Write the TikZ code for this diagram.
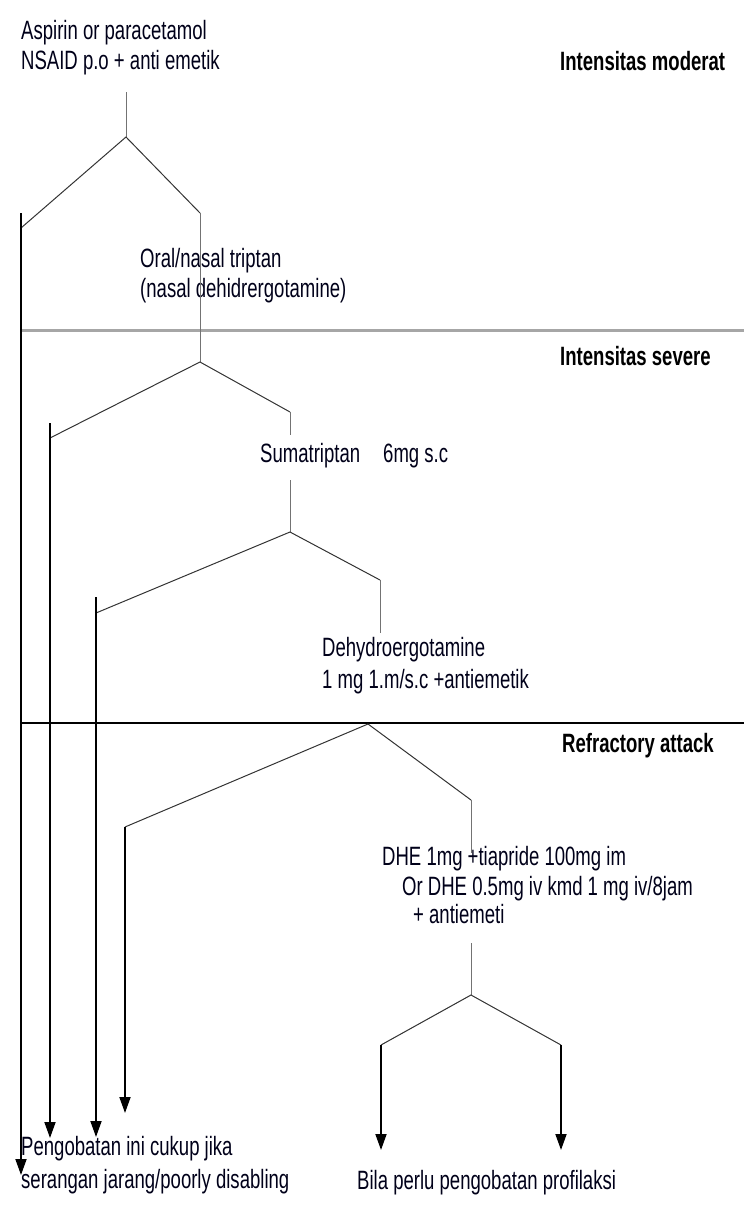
\documentclass[tikz,border=0pt]{standalone}
\usepackage{fontspec}
\setmainfont{Liberation Sans}[FakeStretch=0.7]
\usetikzlibrary{arrows.meta}
\begin{document}
\begin{tikzpicture}[x=1pt,y=-1pt,
  txt/.style={anchor=base west, inner sep=0pt, font=\fontsize{26.5}{30}\selectfont, text=black!90!blue},
  hdr/.style={anchor=base west, inner sep=0pt, font=\fontsize{26.5}{30}\selectfont\bfseries},
  branch/.style={draw=black!80, line width=1pt},
  stem/.style={draw=black!55, line width=1pt},
  mainarrow/.style={draw=black, line width=1.8pt, -{Triangle[length=16pt,width=11pt]}},
  sepgrey/.style={draw=black!35, line width=3pt},
  sepblack/.style={draw=black, line width=1.5pt}]
\useasboundingbox (0,0) rectangle (744,1205);
% texts
\node[txt] (aspirin) at (21,39) {Aspirin or paracetamol};
\node[txt] (nsaid) at (21,69) {NSAID p.o + anti emetik};
\node[hdr] (hmod) at (560,70) {Intensitas moderat};
\node[txt] (oral) at (140,267) {Oral/nasal triptan};
\node[txt] (nasal) at (140,297) {(nasal dehidrergotamine)};
\node[hdr] (hsev) at (560,365) {Intensitas severe};
\node[txt] (suma) at (260,462) {Sumatriptan\hspace{23pt}6mg s.c};
\node[txt] (dhe1) at (322,656) {Dehydroergotamine};
\node[txt] (dhe2) at (322,688) {1 mg 1.m/s.c +antiemetik};
\node[hdr] (href) at (562,752) {Refractory attack};
\node[txt] (tia1) at (382,865) {DHE 1mg +tiapride 100mg im};
\node[txt] (tia2) at (402,895) {Or DHE 0.5mg iv kmd 1 mg iv/8jam};
\node[txt] (tia3) at (413,923) {+ antiemeti};
\node[txt] (cukup1) at (21,1155) {Pengobatan ini cukup jika};
\node[txt] (cukup2) at (21,1188) {serangan jarang/poorly disabling};
\node[txt] (bila) at (357,1189) {Bila perlu pengobatan profilaksi};
% coordinates
\coordinate (a1) at (126,92);
\coordinate (s1) at (126,137);
\coordinate (l1) at (21,228);
\coordinate (r1) at (200,213);
\coordinate (v1t) at (21,213);
\coordinate (v1e) at (21,1175);
\coordinate (s2) at (200,362);
\coordinate (l2) at (50,438);
\coordinate (r2) at (290,412);
\coordinate (v2t) at (50,423);
\coordinate (v2e) at (50,1138);
\coordinate (r2e) at (290,435);
\coordinate (sumb) at (290,480);
\coordinate (s3) at (290,532);
\coordinate (l3) at (96,613);
\coordinate (r3) at (380,580);
\coordinate (v3t) at (96,597);
\coordinate (v3e) at (96,1137);
\coordinate (r3e) at (380,633);
\coordinate (s4) at (368,724);
\coordinate (l4) at (125,827);
\coordinate (r4) at (471,800);
\coordinate (v4e) at (125,1113);
\coordinate (r4e) at (471,853);
\coordinate (tb) at (471,943);
\coordinate (s5) at (471,995);
\coordinate (l5) at (381,1045);
\coordinate (r5) at (561,1045);
\coordinate (v5e) at (381,1150);
\coordinate (v6e) at (561,1150);
\coordinate (g1) at (21,330);
\coordinate (g2) at (744,330);
\coordinate (k1) at (21,723);
\coordinate (k2) at (744,723);
% separators
\draw[sepgrey] (g1) -- (g2);
\draw[sepblack] (k1) -- (k2);
% level 1
\draw[stem] (a1) -- (s1);
\draw[branch] (l1) -- (s1) -- (r1);
\draw[stem] (r1) -- (s2);
\draw[mainarrow] (v1t) -- (v1e);
% level 2
\draw[branch] (l2) -- (s2) -- (r2);
\draw[stem] (r2) -- (r2e);
\draw[mainarrow] (v2t) -- (v2e);
\draw[stem] (sumb) -- (s3);
% level 3
\draw[branch] (l3) -- (s3) -- (r3);
\draw[stem] (r3) -- (r3e);
\draw[mainarrow] (v3t) -- (v3e);
% level 4
\draw[branch] (l4) -- (s4) -- (r4);
\draw[stem] (r4) -- (r4e);
\draw[mainarrow] (l4) -- (v4e);
\draw[stem] (tb) -- (s5);
% level 5
\draw[branch] (l5) -- (s5) -- (r5);
\draw[mainarrow] (l5) -- (v5e);
\draw[mainarrow] (r5) -- (v6e);
\end{tikzpicture}
\end{document}
